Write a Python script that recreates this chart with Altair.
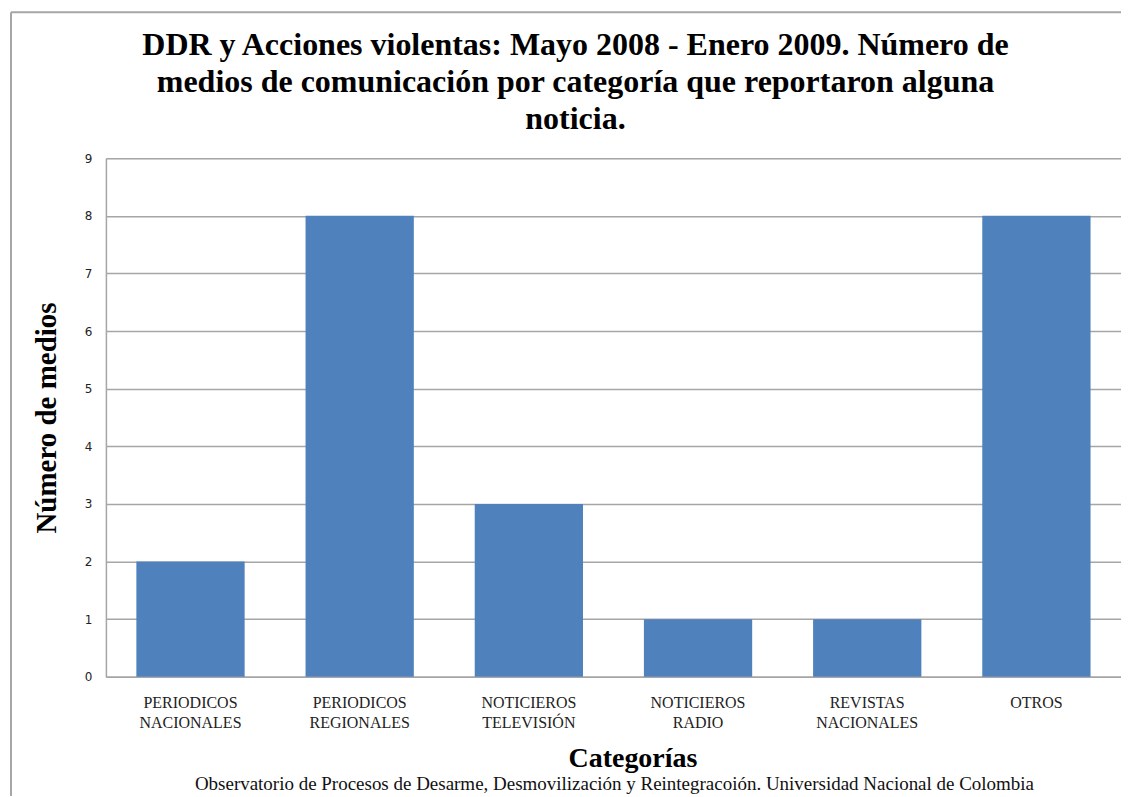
import altair as alt
import pandas as pd

categories = ["PERIODICOS NACIONALES", "PERIODICOS REGIONALES", "NOTICIEROS TELEVISIÓN",
              "NOTICIEROS RADIO", "REVISTAS NACIONALES", "OTROS"]
values = [2, 8, 3, 1, 1, 8]
y_ticks = [0, 1, 2, 3, 4, 5, 6, 7, 8, 9]

title_text = ("DDR y Acciones violentas: Mayo 2008 - Enero 2009. Número de\n"
              "medios de comunicación por categoría que reportaron alguna\n"
              "noticia.")
footnote = "Observatorio de Procesos de Desarme, Desmovilización y Reintegracoión. Universidad Nacional de Colombia"

df = pd.DataFrame({"cat": categories, "val": values})

W, H = 1016, 519
SERIF = "Liberation Serif"

bars = alt.Chart(df).mark_bar(color="#4F81BD").encode(
    x=alt.X("cat:N", sort=categories,
            scale=alt.Scale(paddingInner=0.36, paddingOuter=0.18),
            axis=alt.Axis(title="Categorías", labelAngle=0,
                          labelExpr="split(datum.label, ' ')",
                          labelFont=SERIF, labelFontSize=16, labelColor="#222222",
                          labelLineHeight=20, labelPadding=18, ticks=False,
                          domainColor="#A6A6A6", domainWidth=1.5,
                          titleFont=SERIF, titleFontSize=28, titleFontWeight="bold",
                          titleColor="#000000", titlePadding=14, titleX=527)),
    y=alt.Y("val:Q", scale=alt.Scale(domain=[0, 9], nice=False),
            axis=alt.Axis(title="Número de medios", values=y_ticks, format="d",
                          labelFont="DejaVu Sans", labelFontSize=12, labelColor="#222222",
                          labelPadding=14, ticks=False, grid=True,
                          gridColor="#A6A6A6", gridWidth=1.5,
                          domainColor="#A6A6A6", domainWidth=1.5,
                          titleFont=SERIF, titleFontSize=29, titleFontWeight="bold",
                          titleColor="#000000", titlePadding=23))
)

title = alt.Chart(pd.DataFrame({"t": [title_text]})).mark_text(
    font=SERIF, fontSize=32, fontWeight="bold", color="#000000", align="center",
    baseline="middle", lineBreak="\n", lineHeight=37
).encode(text="t:N", x=alt.value(470), y=alt.value(-113))

foot = alt.Chart(pd.DataFrame({"t": [footnote]})).mark_text(
    font=SERIF, fontSize=19, color="#111111", align="center", baseline="middle"
).encode(text="t:N", x=alt.value(509), y=alt.value(626))

frame_top = alt.Chart(pd.DataFrame({"a": [0]})).mark_rule(color="#A6A6A6", strokeWidth=2).encode(
    x=alt.value(-95), x2=alt.value(1030), y=alt.value(-146))
frame_left = alt.Chart(pd.DataFrame({"a": [0]})).mark_rule(color="#A6A6A6", strokeWidth=2).encode(
    x=alt.value(-95), y=alt.value(-146), y2=alt.value(650))

chart = alt.layer(bars, title, foot, frame_top, frame_left).properties(
    width=W, height=H,
    autosize=alt.AutoSizeParams(type="none"),
    padding={"left": 98, "top": 150, "right": 0, "bottom": 119},
).configure_view(stroke=None).configure(background="white")

chart.save("out.html", embed_options={"renderer": "svg", "actions": False})
